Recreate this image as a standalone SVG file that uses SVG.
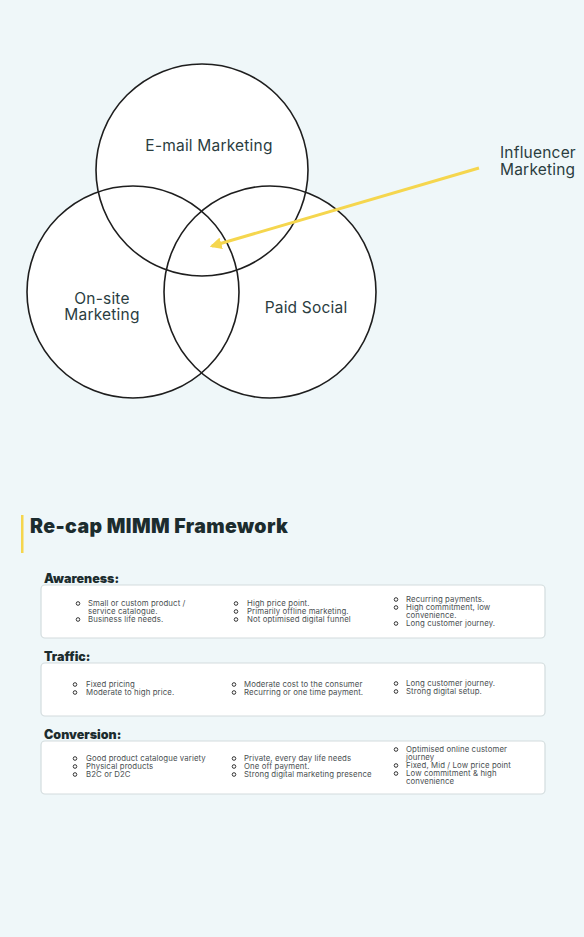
<svg xmlns="http://www.w3.org/2000/svg" width="584" height="937" viewBox="0 0 584 937">
<defs>
<style>
.lbl{font-family:Inter,"Liberation Sans",sans-serif;font-size:15.5px;letter-spacing:0.2px;fill:#2b3d3f}
.h1{font-family:Inter,"Liberation Sans",sans-serif;font-weight:900;font-size:19.5px;letter-spacing:0.4px;fill:#1c2c2e}
.h2{font-family:Inter,"Liberation Sans",sans-serif;font-weight:900;font-size:12.5px;fill:#1c2c2e}
.t{font-family:Inter,"Liberation Sans",sans-serif;font-size:7.8px;letter-spacing:0.1px;fill:#4a4f52}
.circ{fill:#ffffff}
.ring{fill:none;stroke:#1e1e1e;stroke-width:1.6}
.box{fill:#ffffff;stroke:#d3dcde;stroke-width:1.2}
.b{fill:none;stroke:#333;stroke-width:1}
</style>
<marker id="ah" viewBox="0 0 10 10" refX="8" refY="5" markerWidth="4" markerHeight="4" orient="auto">
<path d="M0,0 L10,5 L0,10 z" fill="#f5d64e"/>
</marker>
</defs>
<rect width="584" height="937" fill="#eff7f9"/>
<g id="venn-fill">
<circle class="circ" cx="202" cy="170" r="106"/>
<circle class="circ" cx="133" cy="292" r="106"/>
<circle class="circ" cx="270" cy="292" r="106"/>
</g>
<g id="email">
<circle class="ring" cx="202" cy="170" r="106"/>
<text class="lbl" x="209" y="151" text-anchor="middle">E-mail Marketing</text>
</g>
<g id="onsite">
<circle class="ring" cx="133" cy="292" r="106"/>
<text class="lbl" x="102" y="304" text-anchor="middle">On-site</text>
<text class="lbl" x="102" y="320" text-anchor="middle">Marketing</text>
</g>
<g id="paid">
<circle class="ring" cx="270" cy="292" r="106"/>
<text class="lbl" x="306" y="313" text-anchor="middle">Paid Social</text>
</g>
<g id="influencer">
<text class="lbl" x="500" y="158">Influencer</text>
<text class="lbl" x="500" y="175">Marketing</text>
</g>
<g id="connectors">
<line x1="479" y1="168" x2="212" y2="246" stroke="#f5d64e" stroke-width="3" marker-end="url(#ah)"/>
</g>
<g id="title">
<rect x="21" y="515" width="2.5" height="38" fill="#f5d64e"/>
<text class="h1" x="30" y="533">Re-cap MIMM Framework</text>
</g>
<g id="awareness">
<text class="h2" x="44" y="583">Awareness:</text>
<rect class="box" x="41" y="585" width="504" height="53" rx="4"/>
<circle class="b" cx="78" cy="603.5" r="1.8"/><text class="t" x="88" y="606">Small or custom product /</text>
<text class="t" x="88" y="614">service catalogue.</text>
<circle class="b" cx="78" cy="619.5" r="1.8"/><text class="t" x="88" y="622">Business life needs.</text>
<circle class="b" cx="236" cy="603.5" r="1.8"/><text class="t" x="247" y="606">High price point.</text>
<circle class="b" cx="236" cy="611.5" r="1.8"/><text class="t" x="247" y="614">Primarily offline marketing.</text>
<circle class="b" cx="236" cy="619.5" r="1.8"/><text class="t" x="247" y="622">Not optimised digital funnel</text>
<circle class="b" cx="396" cy="599.5" r="1.8"/><text class="t" x="406" y="602">Recurring payments.</text>
<circle class="b" cx="396" cy="607.5" r="1.8"/><text class="t" x="406" y="610">High commitment, low</text>
<text class="t" x="406" y="618">convenience.</text>
<circle class="b" cx="396" cy="623.5" r="1.8"/><text class="t" x="406" y="626">Long customer journey.</text>
</g>
<g id="traffic">
<text class="h2" x="44" y="661">Traffic:</text>
<rect class="box" x="41" y="663" width="504" height="53" rx="4"/>
<circle class="b" cx="75" cy="684.5" r="1.8"/><text class="t" x="86" y="687">Fixed pricing</text>
<circle class="b" cx="75" cy="692.5" r="1.8"/><text class="t" x="86" y="695">Moderate to high price.</text>
<circle class="b" cx="234" cy="684.5" r="1.8"/><text class="t" x="244" y="687">Moderate cost to the consumer</text>
<circle class="b" cx="234" cy="692.5" r="1.8"/><text class="t" x="244" y="695">Recurring or one time payment.</text>
<circle class="b" cx="396" cy="683.5" r="1.8"/><text class="t" x="406" y="686">Long customer journey.</text>
<circle class="b" cx="396" cy="691.5" r="1.8"/><text class="t" x="406" y="694">Strong digital setup.</text>
</g>
<g id="conversion">
<text class="h2" x="44" y="739">Conversion:</text>
<rect class="box" x="41" y="741" width="504" height="53" rx="4"/>
<circle class="b" cx="75" cy="758.5" r="1.8"/><text class="t" x="86" y="761">Good product catalogue variety</text>
<circle class="b" cx="75" cy="766.5" r="1.8"/><text class="t" x="86" y="769">Physical products</text>
<circle class="b" cx="75" cy="774.5" r="1.8"/><text class="t" x="86" y="777">B2C or D2C</text>
<circle class="b" cx="234" cy="758.5" r="1.8"/><text class="t" x="244" y="761">Private, every day life needs</text>
<circle class="b" cx="234" cy="766.5" r="1.8"/><text class="t" x="244" y="769">One off payment.</text>
<circle class="b" cx="234" cy="774.5" r="1.8"/><text class="t" x="244" y="777">Strong digital marketing presence</text>
<circle class="b" cx="396" cy="749.5" r="1.8"/><text class="t" x="406" y="752">Optimised online customer</text>
<text class="t" x="406" y="760">journey</text>
<circle class="b" cx="396" cy="765.5" r="1.8"/><text class="t" x="406" y="768">Fixed, Mid / Low price point</text>
<circle class="b" cx="396" cy="773.5" r="1.8"/><text class="t" x="406" y="776">Low commitment &amp; high</text>
<text class="t" x="406" y="784">convenience</text>
</g>
</svg>
